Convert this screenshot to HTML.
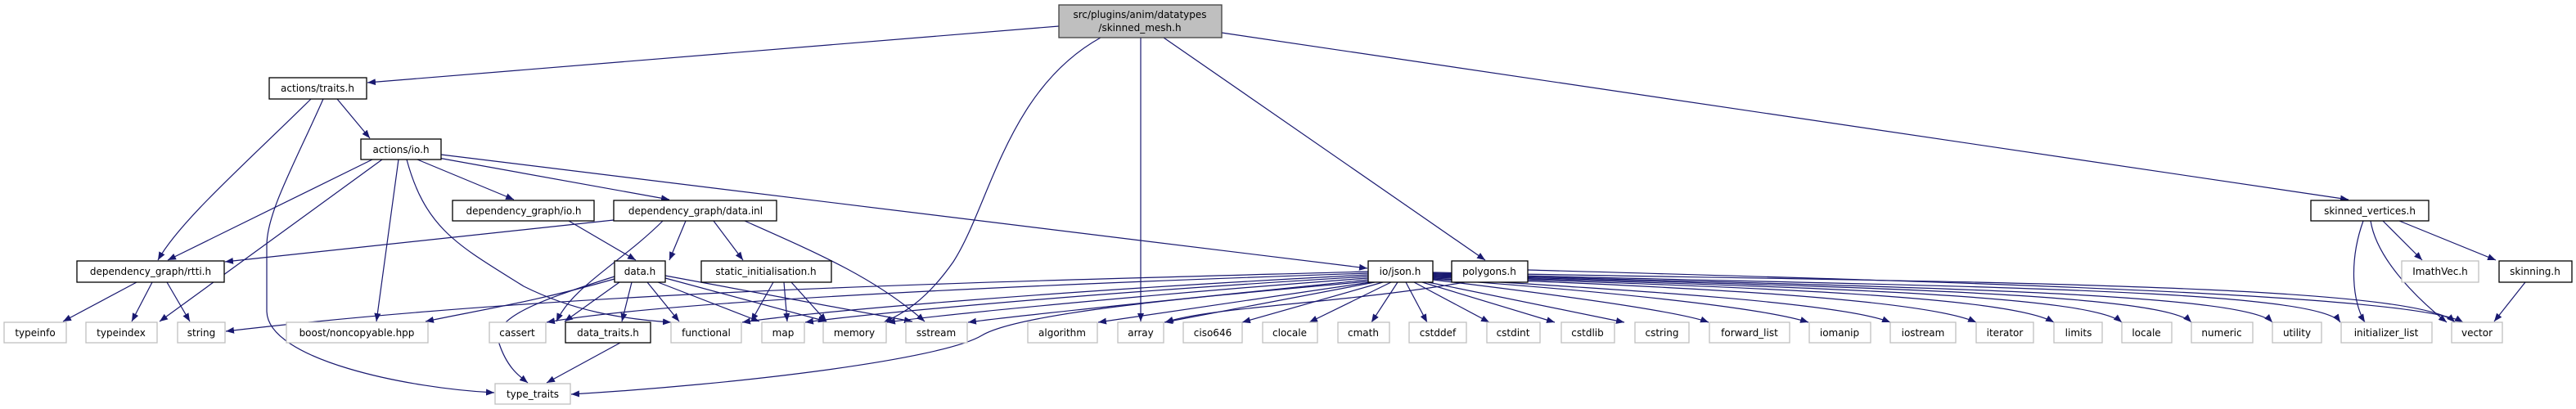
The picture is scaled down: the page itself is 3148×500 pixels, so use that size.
<!DOCTYPE html>
<html><head><meta charset="utf-8"><style>
html,body{margin:0;padding:0;background:#fff;}
svg{display:block;}
text{font-family:"DejaVu Sans","Liberation Sans",sans-serif;font-size:12px;fill:#000;text-anchor:middle;}
.n{fill:#fff;stroke:#000;stroke-width:1.3;}
.g{fill:#fff;stroke:#bfbfbf;stroke-width:1.3;}
.e{fill:none;stroke:#191970;stroke-width:1.2;marker-end:url(#a);}
</style></head><body>
<svg width="3148" height="500" viewBox="0 0 3148 500" xmlns="http://www.w3.org/2000/svg">
<defs><marker id="a" markerUnits="userSpaceOnUse" markerWidth="11" markerHeight="8" refX="10" refY="4" orient="auto"><path d="M0,0 L10,4 L0,8 z" fill="#191970"/></marker></defs>

<!-- edges -->
<path class="e" d="M1294,32 L449,101"/>
<path class="e" d="M1345,46 C1230,110 1210,250 1165,320 C1130,370 1100,385 1080,394"/>
<path class="e" d="M1394,46 L1394,393"/>
<path class="e" d="M1422,46 L1815,318"/>
<path class="e" d="M1493,40 L2870,244"/>

<path class="e" d="M412,121 L452,169"/>
<path class="e" d="M380,121 C300,200 220,270 193,318"/>
<path class="e" d="M395,121 C360,200 326,260 326,300 L326,380 C326,440 500,475 604,480"/>

<path class="e" d="M455,195 L205,318"/>
<path class="e" d="M467,195 L195,393"/>
<path class="e" d="M487,195 L460,393"/>
<path class="e" d="M497,195 C520,280 560,300 640,350 C700,380 760,390 820,394"/>
<path class="e" d="M510,195 L628,244"/>
<path class="e" d="M530,192 L818,244"/>
<path class="e" d="M539,189 L1671,328"/>

<path class="e" d="M695,270 L777,318"/>
<path class="e" d="M750,269 L275,320"/>
<path class="e" d="M810,270 C760,320 700,350 680,393"/>
<path class="e" d="M838,270 L818,318"/>
<path class="e" d="M872,270 L908,318"/>
<path class="e" d="M910,270 C1000,310 1070,340 1130,393"/>

<path class="e" d="M167,345 L77,393"/>
<path class="e" d="M186,345 L161,393"/>
<path class="e" d="M204,345 L232,393"/>

<path class="e" d="M751,341 C650,370 580,380 520,393"/>
<path class="e" d="M757,345 L690,393"/>
<path class="e" d="M772,345 L760,393"/>
<path class="e" d="M791,345 L830,393"/>
<path class="e" d="M804,345 L928,393"/>
<path class="e" d="M813,340 L1010,393"/>
<path class="e" d="M813,337 L1115,393"/>
<path class="e" d="M751,338 C650,370 600,390 610,420 C620,450 635,460 645,468"/>
<path class="e" d="M945,345 L918,393"/>
<path class="e" d="M958,345 L962,393"/>
<path class="e" d="M967,345 L1010,393"/>
<path class="e" d="M758,419 L668,468"/>

<path class="e" d="M1672,332 C1200,345 700,355 276,405"/>
<path class="e" d="M1672,334 C1200,350 800,370 668,394"/>
<path class="e" d="M1672,336 C1300,355 1000,380 907,394"/>
<path class="e" d="M1672,338 C1300,360 1050,385 984,394"/>
<path class="e" d="M1672,340 C1400,360 1150,385 1084,394"/>
<path class="e" d="M1672,342 C1450,365 1250,385 1183,394"/>
<path class="e" d="M1672,344 C1500,360 1250,380 1200,410 C1150,440 900,470 698,482"/>
<path class="e" d="M1675,345 L1342,394"/>
<path class="e" d="M1680,345 L1423,394"/>
<path class="e" d="M1690,345 L1518,394"/>
<path class="e" d="M1700,345 L1600,394"/>
<path class="e" d="M1708,345 L1676,394"/>
<path class="e" d="M1718,345 L1744,394"/>
<path class="e" d="M1728,345 L1820,394"/>
<path class="e" d="M1738,345 L1900,394"/>
<path class="e" d="M1745,345 L1985,394"/>
<path class="e" d="M1751,342 C1900,360 2050,380 2088,394"/>
<path class="e" d="M1751,341 C1950,355 2150,375 2210,394"/>
<path class="e" d="M1751,340 C2000,355 2250,370 2310,394"/>
<path class="e" d="M1751,339 C2050,350 2350,365 2415,394"/>
<path class="e" d="M1751,338 C2100,350 2450,360 2510,394"/>
<path class="e" d="M1751,337 C2150,350 2550,358 2593,394"/>
<path class="e" d="M1751,336 C2200,350 2640,356 2678,394"/>
<path class="e" d="M1751,335 C2250,350 2740,355 2777,394"/>
<path class="e" d="M1751,334 C2300,350 2830,350 2860,394"/>
<path class="e" d="M1751,333 C2350,345 2950,345 3000,394"/>

<path class="e" d="M1790,345 C1650,370 1480,375 1424,394"/>
<path class="e" d="M1867,330 C2400,345 2950,360 3010,394"/>

<path class="e" d="M2888,270 C2870,320 2875,370 2890,394"/>
<path class="e" d="M2897,270 C2905,320 2960,370 2990,394"/>
<path class="e" d="M2912,270 L2960,318"/>
<path class="e" d="M2932,270 L3050,318"/>
<path class="e" d="M3086,345 L3048,393"/>

<!-- nodes -->
<rect x="1294" y="6" width="199" height="40" fill="#bfbfbf" stroke="#404040" stroke-width="1.3"/>
<text x="1393" y="22">src/plugins/anim/datatypes</text>
<text x="1393" y="38">/skinned_mesh.h</text>

<rect class="n" x="329" y="95" width="119" height="26"/><text x="388" y="112">actions/traits.h</text>
<rect class="n" x="441" y="170" width="98" height="25"/><text x="490" y="187">actions/io.h</text>
<rect class="n" x="553" y="245" width="173" height="25"/><text x="640" y="262">dependency_graph/io.h</text>
<rect class="n" x="750" y="245" width="199" height="25"/><text x="850" y="262">dependency_graph/data.inl</text>
<rect class="n" x="94" y="319" width="180" height="26"/><text x="184" y="336">dependency_graph/rtti.h</text>
<rect class="n" x="751" y="319" width="62" height="26"/><text x="782" y="336">data.h</text>
<rect class="n" x="857" y="319" width="159" height="26"/><text x="936" y="336">static_initialisation.h</text>
<rect class="n" x="1672" y="319" width="79" height="26"/><text x="1711" y="336">io/json.h</text>
<rect class="n" x="1774" y="319" width="93" height="26"/><text x="1820" y="336">polygons.h</text>
<rect class="n" x="2824" y="245" width="144" height="25"/><text x="2896" y="262">skinned_vertices.h</text>
<rect class="g" x="2935" y="319" width="94" height="26"/><text x="2982" y="336">ImathVec.h</text>
<rect class="n" x="3054" y="319" width="89" height="26"/><text x="3098" y="336">skinning.h</text>

<rect class="g" x="5" y="394" width="76" height="25"/><text x="43" y="411">typeinfo</text>
<rect class="g" x="105" y="394" width="87" height="25"/><text x="148" y="411">typeindex</text>
<rect class="g" x="217" y="394" width="58" height="25"/><text x="246" y="411">string</text>
<rect class="g" x="350" y="394" width="173" height="25"/><text x="436" y="411">boost/noncopyable.hpp</text>
<rect class="g" x="598" y="394" width="69" height="25"/><text x="632" y="411">cassert</text>
<rect class="n" x="691" y="394" width="104" height="25"/><text x="743" y="411">data_traits.h</text>
<rect class="g" x="820" y="394" width="86" height="25"/><text x="863" y="411">functional</text>
<rect class="g" x="931" y="394" width="52" height="25"/><text x="957" y="411">map</text>
<rect class="g" x="1006" y="394" width="77" height="25"/><text x="1044" y="411">memory</text>
<rect class="g" x="1107" y="394" width="75" height="25"/><text x="1144" y="411">sstream</text>
<rect class="g" x="1256" y="394" width="85" height="25"/><text x="1298" y="411">algorithm</text>
<rect class="g" x="1366" y="394" width="56" height="25"/><text x="1394" y="411">array</text>
<rect class="g" x="1446" y="394" width="72" height="25"/><text x="1482" y="411">ciso646</text>
<rect class="g" x="1543" y="394" width="67" height="25"/><text x="1576" y="411">clocale</text>
<rect class="g" x="1635" y="394" width="63" height="25"/><text x="1666" y="411">cmath</text>
<rect class="g" x="1722" y="394" width="70" height="25"/><text x="1757" y="411">cstddef</text>
<rect class="g" x="1817" y="394" width="65" height="25"/><text x="1849" y="411">cstdint</text>
<rect class="g" x="1908" y="394" width="65" height="25"/><text x="1940" y="411">cstdlib</text>
<rect class="g" x="1998" y="394" width="66" height="25"/><text x="2031" y="411">cstring</text>
<rect class="g" x="2089" y="394" width="98" height="25"/><text x="2138" y="411">forward_list</text>
<rect class="g" x="2211" y="394" width="75" height="25"/><text x="2248" y="411">iomanip</text>
<rect class="g" x="2310" y="394" width="80" height="25"/><text x="2350" y="411">iostream</text>
<rect class="g" x="2415" y="394" width="70" height="25"/><text x="2450" y="411">iterator</text>
<rect class="g" x="2510" y="394" width="59" height="25"/><text x="2540" y="411">limits</text>
<rect class="g" x="2593" y="394" width="61" height="25"/><text x="2623" y="411">locale</text>
<rect class="g" x="2678" y="394" width="75" height="25"/><text x="2715" y="411">numeric</text>
<rect class="g" x="2777" y="394" width="60" height="25"/><text x="2807" y="411">utility</text>
<rect class="g" x="2861" y="394" width="111" height="25"/><text x="2916" y="411">initializer_list</text>
<rect class="g" x="2996" y="394" width="62" height="25"/><text x="3027" y="411">vector</text>
<rect class="g" x="605" y="469" width="92" height="25"/><text x="651" y="486">type_traits</text>
</svg>
</body></html>
